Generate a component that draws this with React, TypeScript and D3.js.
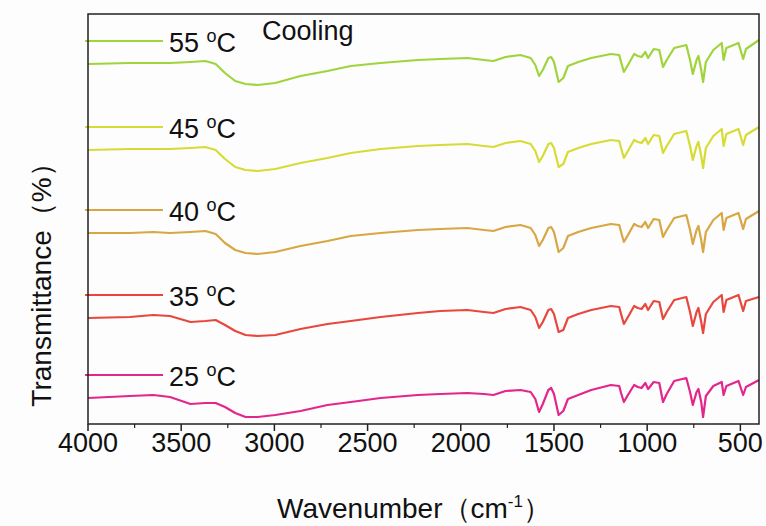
import React, { useEffect, useRef } from 'react';
import * as d3 from 'd3';

// wavenumber grid (cm-1) shared by all spectra
const wavenumbers = [
  4000, 3775, 3650, 3560, 3450, 3370, 3315, 3265, 3210, 3155, 3090, 2995, 2860, 2715, 2590, 2430,
  2230, 2110, 1965, 1875, 1825, 1760, 1680, 1625, 1600, 1580, 1560, 1530, 1515, 1500, 1475, 1450,
  1425, 1370, 1300, 1195, 1150, 1140, 1125, 1100, 1070, 1050, 1030, 1010, 995, 965, 935, 915,
  895, 855, 790, 770, 755, 735, 725, 710, 700, 685, 645, 600, 590, 575, 510, 485, 470, 400,
];

// transmittance, arbitrary offset units
const t55 = [
  360, 361, 361, 361, 362, 363, 360, 351, 343, 340, 339, 341, 348, 353, 358, 361,
  364, 365, 366, 364, 363, 367, 369, 366, 359, 348, 354, 366, 367, 362, 342, 346,
  358, 362, 366, 370, 369, 362, 352, 360, 370, 368, 367, 372, 366, 375, 374, 357,
  364, 376, 379, 364, 350, 364, 368, 354, 342, 362, 374, 381, 364, 376, 381, 365, 375, 384,
];
const t45 = [
  274, 275, 275, 275, 276, 277, 274, 265, 257, 254, 253, 255, 261, 266, 271, 275,
  278, 279, 280, 278, 277, 281, 283, 280, 273, 262, 268, 280, 281, 276, 257, 260,
  272, 276, 280, 284, 283, 276, 266, 274, 284, 282, 281, 286, 280, 289, 288, 271,
  278, 290, 293, 278, 264, 278, 282, 268, 256, 276, 288, 295, 278, 290, 295, 279, 289, 297,
];
const t40 = [
  191, 191, 192, 191, 192, 193, 190, 181, 174, 171, 170, 172, 178, 183, 188, 191,
  194, 195, 196, 194, 193, 197, 199, 196, 189, 178, 184, 196, 197, 192, 172, 176,
  188, 192, 196, 200, 199, 192, 182, 190, 200, 198, 197, 202, 196, 205, 204, 187,
  194, 206, 209, 194, 180, 194, 198, 184, 172, 192, 204, 211, 194, 206, 211, 195, 205, 213,
];
const t35 = [
  106, 107, 109, 108, 102, 103, 104, 99, 93, 89, 88, 89, 95, 100, 103, 107,
  111, 113, 114, 112, 111, 115, 117, 114, 107, 96, 102, 114, 115, 110, 92, 94,
  106, 110, 114, 118, 117, 110, 100, 108, 118, 116, 115, 120, 114, 123, 122, 105,
  112, 124, 127, 112, 98, 112, 116, 102, 91, 110, 122, 129, 112, 124, 129, 113, 123, 127,
];
const t25 = [
  26, 28, 29, 27, 20, 21, 21, 17, 11, 7, 7, 9, 13, 19, 22, 26,
  29, 30, 31, 30, 29, 33, 34, 32, 25, 12, 20, 34, 36, 30, 9, 13,
  25, 29, 34, 39, 38, 31, 22, 30, 39, 37, 36, 41, 35, 42, 41, 22,
  30, 43, 46, 32, 19, 32, 35, 22, 7, 28, 38, 42, 29, 38, 43, 29, 37, 44,
];

const seriesLabels = ['55', '45', '40', '35', '25'];
const seriesValues = [t55, t45, t40, t35, t25];
const seriesColors = ['#9fd43c', '#d6dc35', '#d8a743', '#e8473e', '#e3268c'];

const majorTicks = [4000, 3500, 3000, 2500, 2000, 1500, 1000, 500];
const minorTicks = [3750, 3250, 2750, 2250, 1750, 1250, 750];

const W = 766;
const H = 526;
const margin = { top: 14, right: 7, bottom: 102, left: 88 };
const font = 'Liberation Sans, Arial, sans-serif';

export default function App() {
  const ref = useRef<SVGSVGElement | null>(null);

  useEffect(() => {
    const svg = d3.select(ref.current);
    svg.selectAll('*').remove();

    const x0 = margin.left;
    const x1 = W - margin.right;
    const y0 = margin.top;
    const y1 = H - margin.bottom;

    const x = d3.scaleLinear().domain([4000, 400]).range([x0, x1]);
    const y = d3.scaleLinear().domain([0, 410]).range([y1, y0]);

    svg.append('rect').attr('width', W).attr('height', H).attr('fill', '#fdfdfd');

    const line = d3
      .line<number>()
      .x((_, i) => x(wavenumbers[i]))
      .y((d) => y(d));

    seriesValues.forEach((vals, i) => {
      svg
        .append('path')
        .attr('d', line(vals))
        .attr('fill', 'none')
        .attr('stroke', seriesColors[i])
        .attr('stroke-width', 2.2)
        .attr('stroke-linejoin', 'round');

      // legend key above each trace
      const ly = Math.round(y(vals[0] + 23));
      svg
        .append('line')
        .attr('x1', x0 - 3)
        .attr('x2', x0 + 75)
        .attr('y1', ly)
        .attr('y2', ly)
        .attr('stroke', seriesColors[i])
        .attr('stroke-width', 2);
      const t = svg
        .append('text')
        .attr('x', x0 + 81)
        .attr('y', ly + 11)
        .attr('font-family', font)
        .attr('font-size', 27)
        .attr('fill', '#111');
      t.append('tspan').text(`${seriesLabels[i]} `);
      t.append('tspan').attr('font-size', 18).attr('dy', -10).text('o');
      t.append('tspan').attr('dy', 10).text('C');
    });

    // frame
    svg
      .append('rect')
      .attr('x', x0)
      .attr('y', y0)
      .attr('width', x1 - x0)
      .attr('height', y1 - y0)
      .attr('fill', 'none')
      .attr('stroke', '#222')
      .attr('stroke-width', 1.5);

    const axis = svg.append('g');
    majorTicks.forEach((v) => {
      axis
        .append('line')
        .attr('x1', x(v))
        .attr('x2', x(v))
        .attr('y1', y1)
        .attr('y2', y1 + 7)
        .attr('stroke', '#222')
        .attr('stroke-width', 1.5);
      axis
        .append('text')
        .attr('x', x(v))
        .attr('y', y1 + 28)
        .attr('text-anchor', 'middle')
        .attr('font-family', font)
        .attr('font-size', 27)
        .attr('fill', '#111')
        .text(v);
    });
    minorTicks.forEach((v) => {
      axis
        .append('line')
        .attr('x1', x(v))
        .attr('x2', x(v))
        .attr('y1', y1)
        .attr('y2', y1 + 4)
        .attr('stroke', '#222')
        .attr('stroke-width', 1.2);
    });

    svg
      .append('text')
      .attr('x', 262)
      .attr('y', 40)
      .attr('font-family', font)
      .attr('font-size', 27)
      .attr('fill', '#111')
      .text('Cooling');

    const xt = svg
      .append('text')
      .attr('x', 414)
      .attr('y', 518)
      .attr('text-anchor', 'middle')
      .attr('font-family', font)
      .attr('font-size', 28)
      .attr('fill', '#111');
    xt.append('tspan').text('Wavenumber（cm');
    xt.append('tspan').attr('font-size', 17).attr('dy', -11).text('-1');
    xt.append('tspan').attr('dy', 11).text('）');

    svg
      .append('text')
      .attr('transform', 'translate(51,278) rotate(-90)')
      .attr('text-anchor', 'middle')
      .attr('font-family', font)
      .attr('font-size', 28)
      .attr('fill', '#111')
      .text('Transmittance（%）');
  }, []);

  return (
    <svg
      ref={ref}
      width={W}
      height={H}
      style={{ position: 'absolute', left: 0, top: 0, background: '#fff' }}
    />
  );
}
